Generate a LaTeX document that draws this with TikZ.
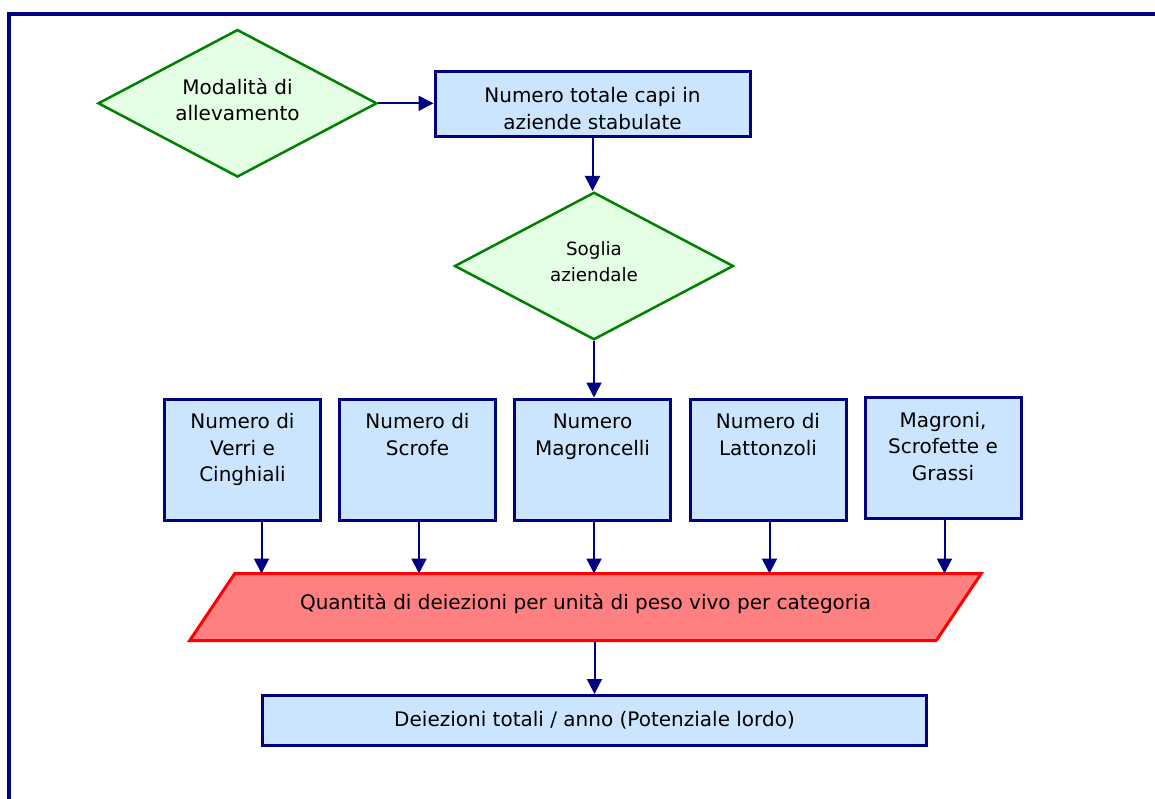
\documentclass[tikz,border=0pt]{standalone}
\usepackage{fontspec}
\setmainfont{DejaVu Sans}
\usetikzlibrary{shapes.geometric,arrows.meta,backgrounds}
\definecolor{navy}{RGB}{0,0,128}
\definecolor{boxblue}{RGB}{204,229,255}
\definecolor{palegreen}{RGB}{229,255,229}
\definecolor{leafgreen}{RGB}{0,128,0}
\definecolor{salmon}{RGB}{255,128,128}
\newcommand{\toptext}[1]{\parbox[c][121pt][t]{150pt}{\centering\rule{0pt}{29.5pt}#1}}
\begin{document}
\begin{tikzpicture}[x=1pt, y=-1pt, >={Triangle[length=15pt,width=15pt]},
  font=\fontsize{20}{26.5}\selectfont,
  box/.style={draw=navy, fill=boxblue, line width=3pt, align=center},
  catbox/.style={box, anchor=north, inner sep=0pt, minimum width=156pt, minimum height=121pt},
  choice/.style={diamond, aspect=2, draw=leafgreen, fill=palegreen, line width=2.5pt, align=center,
    inner sep=0pt, minimum width=279pt, minimum height=147.5pt},
  para/.style={draw=red, fill=salmon, line width=3pt, line join=miter},
  link/.style={->, navy, line width=2pt}]
\useasboundingbox (0,0) rectangle (1155,799);
\draw[navy, line width=4pt] (9,799) -- (9,13.7) -- (1155,13.7);

\node[choice] (mode) at (237.5,103.3) {Modalità di\\allevamento\rule[-8pt]{0pt}{8pt}};
\node[box, minimum width=315pt, minimum height=65pt] (total) at (592.5,104.2) {\rule{0pt}{24pt}Numero totale capi in\\aziende stabulate};
\node[choice, font=\fontsize{18.3}{26}\selectfont] (soglia) at (594,266) {Soglia\\aziendale\rule[-8pt]{0pt}{8pt}};

\node[catbox] (verri) at (242.5,397.5) {\toptext{Numero di\\Verri e\\Cinghiali}};
\node[catbox] (scrofe) at (417.5,397.5) {\toptext{Numero di\\Scrofe}};
\node[catbox] (magro) at (592.5,397.5) {\toptext{Numero\\Magroncelli}};
\node[catbox] (latto) at (768,397.5) {\toptext{Numero di\\Lattonzoli}};
\node[catbox] (grassi) at (943,396) {\toptext{Magroni,\\Scrofette e\\Grassi}};

\node[inner sep=0pt, outer sep=0pt, minimum width=746.5pt, minimum height=67pt] (qty) at (585.5,607) {Quantità di deiezioni per unità di peso vivo per categoria\rule[-10.7pt]{0pt}{10.7pt}};
\begin{scope}[on background layer]
\draw[para] ([xshift=22.5pt]qty.north west) -- ([xshift=22.5pt]qty.north east)
  -- ([xshift=-22.5pt]qty.south east) -- ([xshift=-22.5pt]qty.south west) -- cycle;
\end{scope}

\node[box, minimum width=664pt, minimum height=50pt] (final) at (594.5,720.5) {Deiezioni totali / anno (Potenziale lordo)};

\draw[link] (mode.east) -- (mode.east -| total.west);
\draw[link] (total.south) -- (total.south |- soglia.north);
\draw[link] (soglia.south) -- (soglia.south |- magro.north);
\coordinate (vfoot) at ([xshift=19pt]verri.south);
\draw[link] (vfoot) -- (vfoot |- qty.north);
\foreach \n in {scrofe,magro,latto,grassi}
  \draw[link] ([xshift=1.5pt]\n.south) -- ([xshift=1.5pt]\n.south |- qty.north);
\draw[link] (qty.south -| final.north) -- (final.north);
\end{tikzpicture}
\end{document}
